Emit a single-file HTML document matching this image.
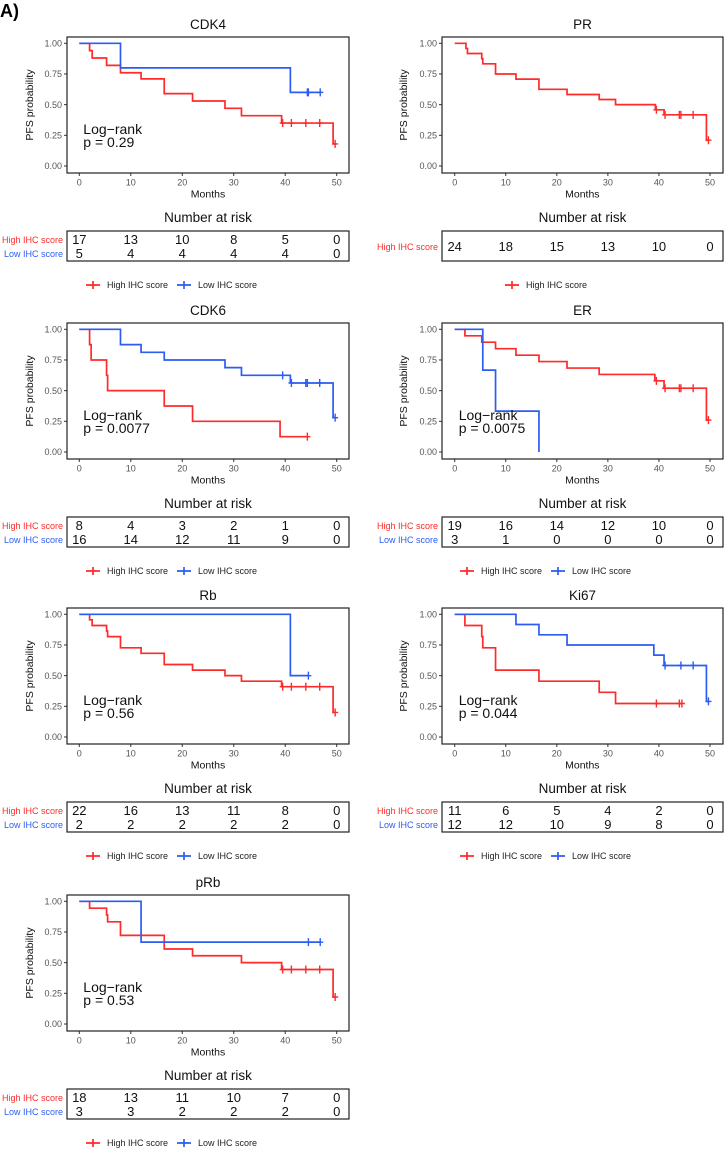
<!DOCTYPE html>
<html><head><meta charset="utf-8"><style>
html,body{margin:0;padding:0;background:#fff;}
svg{display:block;font-family:"Liberation Sans",sans-serif;}
</style></head><body>
<svg id="fig" width="724" height="1157" viewBox="0 0 724 1157" xmlns="http://www.w3.org/2000/svg">
<text x="0" y="17" font-size="18" font-weight="bold">A)</text>
</svg>
<script>
const RED = '#ff2a2a', BLUE = '#2d5cf2';
const panelNames = ['CDK4','PR','CDK6','ER','Rb','Ki67','pRb'];
const panelCols = [0,1,0,1,0,1,0];
const panelRows = [0,0,1,1,2,2,3];
const pvalues = ['0.29', null, '0.0077', '0.0075', '0.56', '0.044', '0.53'];
// High IHC score series: event times, survival after event, censor times
const highTimes = [
 [2,2.5,5.3,8,12,16.5,22,28.3,31.5,39.3,49.3],
 [2.2,2.5,5.3,5.5,8,12,16.5,22,28.3,31.5,39.3,41,49.3],
 [2,2.3,5.3,5.5,16.5,22,39],
 [2,5.3,8,12,16.5,22,28.3,39.2,41,49.3],
 [2,2.5,5.3,5.5,8,12,16.5,22,28.3,31.5,39.3,49.3],
 [2,5.3,5.5,8,16.5,28.3,31.5],
 [2,5.3,5.5,8,16.5,22,31.5,39.3,49.3]
];
const highSurv = [
 [0.94,0.88,0.82,0.76,0.71,0.59,0.53,0.47,0.41,0.35,0.18],
 [0.958,0.917,0.875,0.833,0.75,0.708,0.625,0.583,0.542,0.5,0.458,0.417,0.21],
 [0.875,0.75,0.625,0.5,0.375,0.25,0.125],
 [0.947,0.895,0.842,0.789,0.737,0.684,0.632,0.58,0.52,0.26],
 [0.955,0.909,0.864,0.818,0.727,0.682,0.591,0.545,0.5,0.455,0.41,0.2],
 [0.909,0.818,0.727,0.545,0.455,0.364,0.273],
 [0.944,0.889,0.833,0.722,0.611,0.556,0.5,0.444,0.22]
];
const highCensor = [
 [39.5,41.2,44,46.7,49.7],
 [39.5,41.2,44,44.3,46.7,49.7],
 [44.3],
 [39.5,41.2,44,44.3,46.7,49.7],
 [39.5,41.2,44,46.7,49.7],
 [39.5,44,44.5],
 [39.5,41.2,44,46.7,49.7]
];
const lowTimes = [[8,41],null,[8,12,16.5,28.3,31.5,41,49.3],[5.5,8,16.5],[41],[12,16.5,22,39,41,49.3],[12]];
const lowSurv = [[0.8,0.6],null,[0.875,0.8125,0.75,0.6875,0.625,0.5625,0.28],[0.667,0.333,0],[0.5],[0.917,0.833,0.75,0.667,0.583,0.29],[0.667]];
const lowCensor = [[44.3,44.5,46.8],null,[39.5,41.2,44,44.3,46.7,49.7],[],[44.5],[41.2,44.3,46.7,49.7],[44.5,46.8]];
const lowEnd = [46.8,null,49.7,16.5,44.5,49.7,46.8];
const highEnd = [49.7,49.7,44.3,49.7,49.7,44.5,49.7];
const riskHigh = [[17,13,10,8,5,0],[24,18,15,13,10,0],[8,4,3,2,1,0],[19,16,14,12,10,0],[22,16,13,11,8,0],[11,6,5,4,2,0],[18,13,11,10,7,0]];
const riskLow = [[5,4,4,4,4,0],null,[16,14,12,11,9,0],[3,1,0,0,0,0],[2,2,2,2,2,0],[12,12,10,9,8,0],[3,3,2,2,2,0]];
const xTicks = [0,10,20,30,40,50];
const yTicks = [0,0.25,0.5,0.75,1];
const yTickLabels = ['0.00','0.25','0.50','0.75','1.00'];

const svg = document.getElementById('fig');
const NS = 'http://www.w3.org/2000/svg';
const rowOff = [0,286,571,858];
function mk(tag, attrs, parent, text){
  const e = document.createElementNS(NS, tag);
  for (const k in attrs) e.setAttribute(k, attrs[k]);
  if (text !== undefined) e.textContent = text;
  parent.appendChild(e);
  return e;
}

panelNames.forEach((name, i) => {
  const col = panelCols[i], oy = rowOff[panelRows[i]];
  const bx0 = col ? 442 : 67, bx1 = col ? 723 : 349;
  const by0 = 37 + oy, by1 = 173 + oy;
  const x0 = col ? 454.7 : 79.3, x50 = col ? 710 : 336.7;
  const X = t => x0 + (x50 - x0) * t / 50;
  const Y = s => (by1 - 7) - ((by1 - 7) - (by0 + 6.3)) * s;
  const cx = (bx0 + bx1) / 2;
  const g = mk('g', {}, svg);
  
  

  const t = mk('text', {x: cx, y: 29 + oy, 'font-size': 13.5, 'text-anchor': 'middle', fill: '#111'}, g, name);
  
  

  yTicks.forEach((v, k) => {
    mk('line', {x1: bx0 - 3, x2: bx0, y1: Y(v), y2: Y(v), stroke: '#333', 'stroke-width': 1}, g);
    const l = mk('text', {x: bx0 - 5, y: Y(v) + 3.2, 'font-size': 9, 'text-anchor': 'end', fill: '#555'}, g, yTickLabels[k]);
    
    
  });
  xTicks.forEach(v => {
    mk('line', {x1: X(v), x2: X(v), y1: by1, y2: by1 + 3, stroke: '#333', 'stroke-width': 1}, g);
    const l = mk('text', {x: X(v), y: by1 + 12.5, 'font-size': 9, 'text-anchor': 'middle', fill: '#555'}, g, v);
    
    
  });
  const yl = col ? 407 : 33;
  const ylab = mk('text', {x: yl, y: (by0 + by1) / 2, 'font-size': 10.5, 'text-anchor': 'middle', fill: '#111', transform: `rotate(-90 ${yl} ${(by0 + by1) / 2})`}, g, 'PFS probability');
  
  
  const xlab = mk('text', {x: (x0 + x50) / 2, y: by1 + 24.5, 'font-size': 10.5, 'text-anchor': 'middle', fill: '#111'}, g, 'Months');
  
  

  function drawSeries(times, surv, cens, end, color, label){
    let d = `M${X(0)},${Y(1)}`;
    times.forEach((tt, k) => { d += ` H${X(tt)} V${Y(surv[k])}`; });
    if (end > times[times.length - 1]) d += ` H${X(end)}`;
    const p = mk('path', {d, fill: 'none', stroke: color, 'stroke-width': 1.7}, g);
    
    
    cens.forEach(c => {
      let sv = 1;
      times.forEach((tt, k) => { if (tt <= c) sv = surv[k]; });
      const m = mk('path', {d: `M${X(c)},${Y(sv) - 4} V${Y(sv) + 4} M${X(c) - 3},${Y(sv)} H${X(c) + 3}`, stroke: color, 'stroke-width': 1.4, fill: 'none'}, g);
      
      
    });
  }
  drawSeries(highTimes[i], highSurv[i], highCensor[i], highEnd[i], RED, 'high-ihc');
  if (lowTimes[i]) drawSeries(lowTimes[i], lowSurv[i], lowCensor[i], lowEnd[i], BLUE, 'low-ihc');

  const box = mk('rect', {x: bx0, y: by0, width: bx1 - bx0, height: by1 - by0, fill: 'none', stroke: '#222', 'stroke-width': 1.2}, g);
  
  

  if (pvalues[i]) {
    const lr = mk('text', {x: X(0) + 4, y: by0 + 97, 'font-size': 14, fill: '#111'}, g, 'Log\u2212rank');
    
    
    const pv = mk('text', {x: X(0) + 4, y: by0 + 110, 'font-size': 14, fill: '#111'}, g, 'p = ' + pvalues[i]);
    
    
  }

  const nr = mk('text', {x: cx, y: 222 + oy, 'font-size': 13.5, 'text-anchor': 'middle', fill: '#111'}, g, 'Number at risk');
  
  
  const tb = mk('rect', {x: bx0, y: 231 + oy, width: bx1 - bx0, height: 30, fill: 'none', stroke: '#222', 'stroke-width': 1.2}, g);
  
  
  const rows = riskLow[i] ? [[riskHigh[i], RED, 'High IHC score', 244], [riskLow[i], BLUE, 'Low IHC score', 258]] : [[riskHigh[i], RED, 'High IHC score', 251]];
  rows.forEach(r => {
    const lab = mk('text', {x: bx0 - 4, y: r[3] - 1 + oy, 'font-size': 9, 'text-anchor': 'end', fill: r[1]}, g, r[2]);
    
    
    r[0].forEach((v, k) => {
      const n = mk('text', {x: X(xTicks[k]), y: r[3] + oy, 'font-size': 13, 'text-anchor': 'middle', fill: '#111'}, g, v);
      
      
    });
  });

  const ly = 285 + oy;
  const items = lowTimes[i] ? [[RED, 'High IHC score'], [BLUE, 'Low IHC score']] : [[RED, 'High IHC score']];
  let lx = col ? (lowTimes[i] ? 460 : 505) : 86;
  items.forEach(it => {
    const le = mk('g', {}, g);
    
    
    mk('path', {d: `M${lx},${ly} H${lx + 14} M${lx + 7},${ly - 4} V${ly + 4}`, stroke: it[0], 'stroke-width': 1.7, fill: 'none'}, le);
    mk('text', {x: lx + 21, y: ly + 3.2, 'font-size': 9, fill: '#222'}, le, it[1]);
    lx += 91;
  });
});
</script>
</body></html>
